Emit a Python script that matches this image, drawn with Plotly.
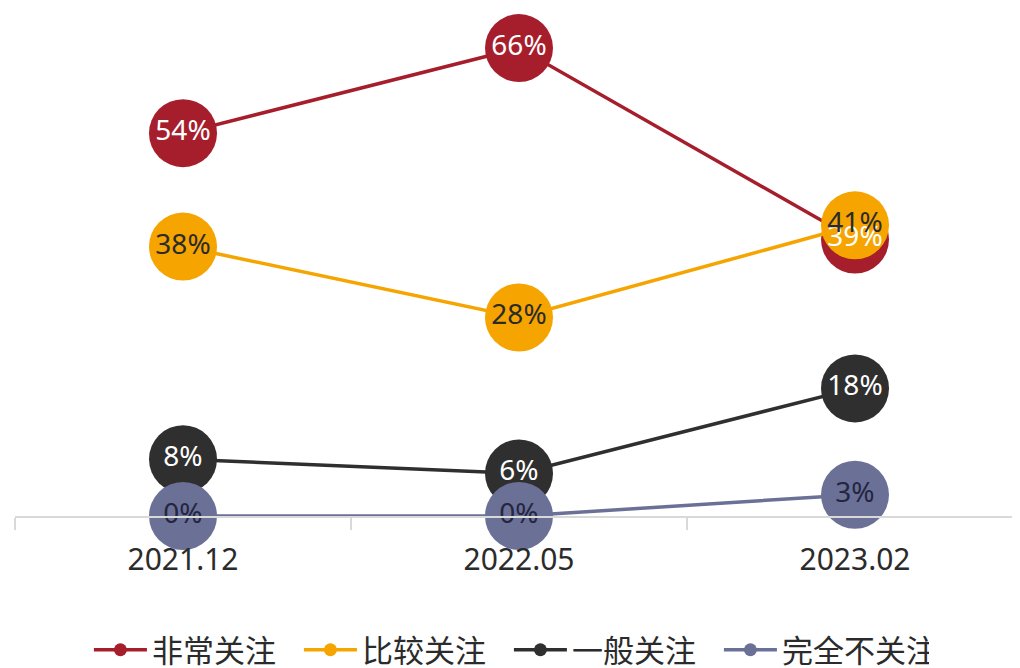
import plotly.graph_objects as go

categories = ["2021.12", "2022.05", "2023.02"]
series_names = ["非常关注", "比较关注", "一般关注", "完全不关注"]
very = [54, 66, 39]
fairly = [38, 28, 41]
general = [8, 6, 18]
none_ = [0, 0, 3]
values = [very, fairly, general, none_]
colors = ["#A61E2C", "#F5A400", "#2F2F2F", "#6B7097"]
text_colors = ["#FFFFFF", "#2B2B2B", "#FFFFFF", "#23263F"]

font_family = "Noto Sans, Noto Sans CJK SC, sans-serif"

fig = go.Figure()
for name, vals, c in zip(series_names, values, colors):
    fig.add_trace(go.Scatter(
        x=categories, y=vals, mode="lines+markers", name=name,
        line=dict(color=c, width=3.5),
        marker=dict(color=c, size=68, line=dict(width=0)),
        showlegend=False, hoverinfo="skip", cliponaxis=False,
    ))
for name, vals, tc in zip(series_names, values, text_colors):
    fig.add_trace(go.Scatter(
        x=categories, y=vals, mode="text",
        text=[f"{v}%" for v in vals], textposition="middle center",
        textfont=dict(color=tc, size=28, family=font_family),
        showlegend=False, hoverinfo="skip", cliponaxis=False,
    ))
for name, c in zip(series_names, colors):
    fig.add_trace(go.Scatter(
        x=[None], y=[None], mode="lines+markers", name=name,
        line=dict(color=c, width=3.5), marker=dict(color=c, size=13),
    ))

fig.update_layout(
    width=1020, height=668,
    margin=dict(l=7, r=5, t=0, b=160, autoexpand=False),
    paper_bgcolor="white", plot_bgcolor="white",
    font=dict(family=font_family, color="#333333"),
    xaxis=dict(
        type="category", range=[-0.5, 2.5], showgrid=False,
        showline=True, linecolor="#D9D9D9", linewidth=2,
        ticks="outside", tickson="boundaries", ticklen=12, tickcolor="#D9D9D9", tickwidth=2,
        tickfont=dict(size=30, color="#2B2B2B", family=font_family),
        ticklabelstandoff=16,
        zeroline=False,
    ),
    yaxis=dict(range=[0, 71.65], visible=False, showgrid=False, zeroline=False),
    legend=dict(
        orientation="h", x=0.49, xanchor="center", y=-0.264, yanchor="middle",
        font=dict(size=31, color="#2B2B2B", family=font_family),
        itemwidth=53, traceorder="normal", entrywidth=142,
    ),
    showlegend=True,
)

fig.write_html("out.html")
